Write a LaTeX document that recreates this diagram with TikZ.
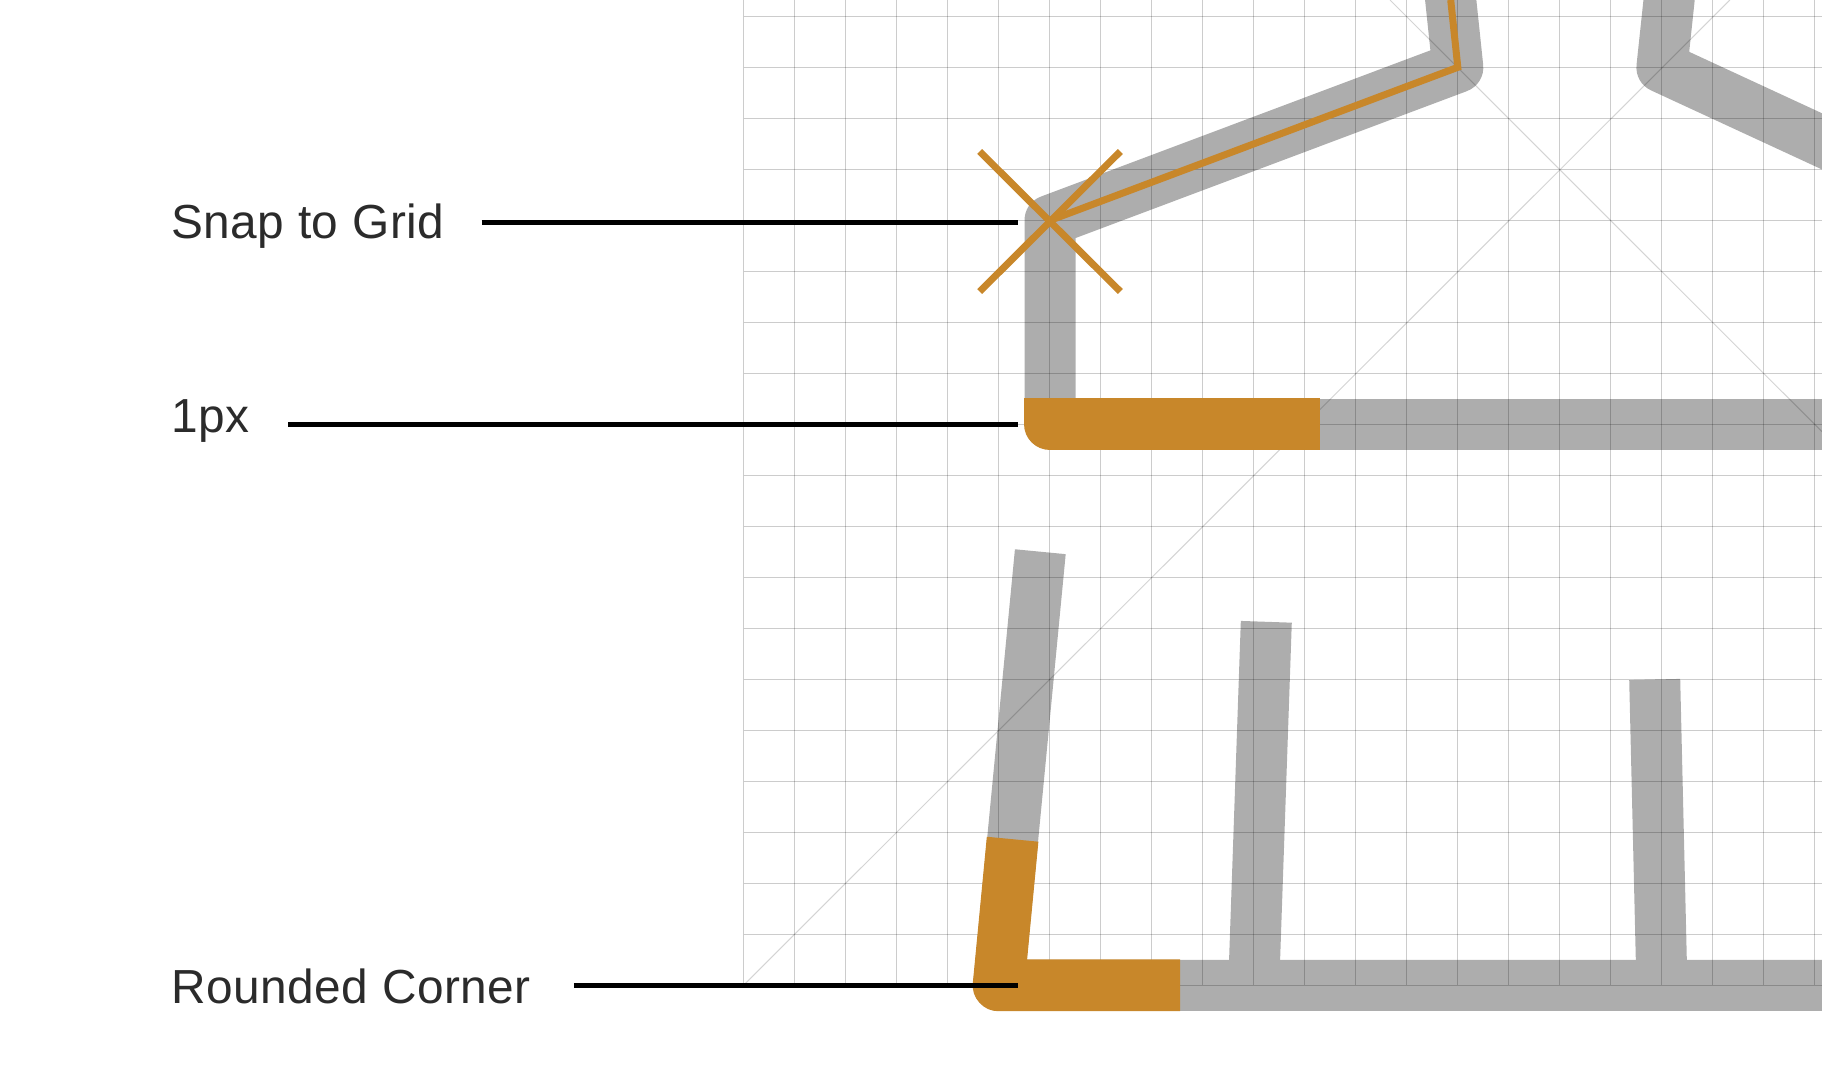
\documentclass[tikz,border=0pt]{standalone}
\usepackage{fontspec}
\setmainfont[LetterSpace=1.1]{Liberation Sans}
\usepackage{xcolor}
\usetikzlibrary{calc, positioning}
\definecolor{stemgray}{HTML}{ADADAD}
\definecolor{amber}{HTML}{C8872A}
\definecolor{inkgray}{HTML}{2B2B2B}
\tikzset{
	stem/.style={draw=stemgray, line width=51pt, line join=round, line cap=butt},
	hilite/.style={draw=amber, line width=51.8pt, line join=round, line cap=butt},
	gridline/.style={draw=black, opacity=0.2, line width=1pt},
	guide/.style={draw=black, opacity=0.17, line width=1pt},
	outline/.style={draw=amber, line width=7pt, line join=miter},
	leader/.style={draw=black, line width=4.6pt},
	callout/.style={anchor=base west, inner sep=0pt, text=inkgray, font=\fontsize{47.8}{50}\selectfont}
}

\begin{document}
\begin{tikzpicture}[x=1pt, y=-1pt]
		\useasboundingbox (0,0) rectangle (1822,1076);
		
		% Outline corners
		\coordinate (a) at (1050,220.4);
		\coordinate (b) at (1457.8,67.3);
		\coordinate (c) at (1661.9,67.3);
		\coordinate (d) at (1050,424.2);
		\coordinate (e) at (998.6,985.3);
		
		% Gray stems
		\draw[stem] (d) -- (a) -- (b) -- (1448.6,-20);
		\draw[stem] (1671.2,-20) -- (c) -- (1840,149.7);
		\draw[stem] (d) -- (1840,424.2);
		\draw[stem] (1040.3,551.7) -- (e) -- (1840,985.3);
		\draw[stem] (1266.3,621.8) -- (1253.7,985.3);
		\draw[stem] (1654.7,679.5) -- (1661.9,985.3);
		
		% Grid on top of the stems
		\foreach \k in {0,...,21}
			\draw[gridline] ({743.5+\k*51.02},0) -- ({743.5+\k*51.02},985.3);
		\foreach \k in {0,...,19}
			\draw[gridline] (743.5,{16+\k*51.02}) -- (1822,{16+\k*51.02});
		\draw[guide] (743.5,985.3) -- (1729.9,0);
		\draw[guide] (1390,0) -- (1822,431.7);
		
		% Highlighted pieces
		\draw[hilite] (1050,398.3) -- (d) -- (1320.4,424.2);
		\draw[hilite] (1012.6,839.2) -- (e) -- (1180,985.3);
		\draw[outline] (a) -- (b) -- (1450.7,0);
		\draw[outline] (979.7,151.5) -- (1120.3,291.5);
		\draw[outline] (1120.3,151.5) -- (979.7,291.5);
		
		% Callouts
		\node[callout] (lblsnap) at (171,238) {Snap to Grid};
		\node[callout] (lblpx) at (171,432) {1px};
		\node[callout] (lblround) at (171,1003.3) {Rounded Corner};
		\coordinate (tipsnap) at (1018,222.6);
		\coordinate (tippx) at (1018,424.2);
		\coordinate (tipround) at (1018,985.7);
		\draw[leader] ([xshift=37pt]lblsnap.east |- tipsnap) -- (tipsnap);
		\draw[leader] ([xshift=38.6pt]lblpx.east |- tippx) -- (tippx);
		\draw[leader] ([xshift=42.7pt]lblround.east |- tipround) -- (tipround);
	\end{tikzpicture}
\end{document}
